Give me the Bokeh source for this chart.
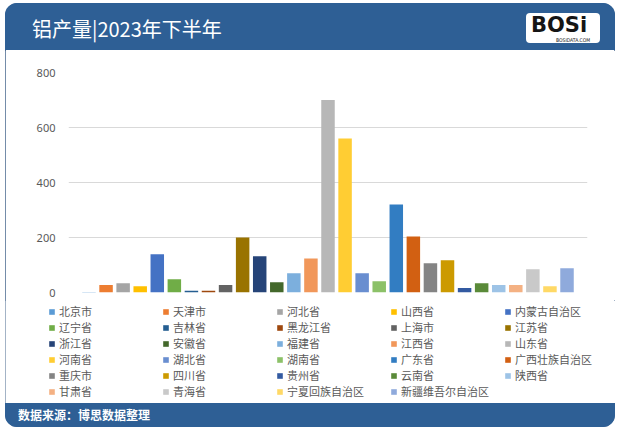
from bokeh.plotting import figure
from bokeh.models import ColumnDataSource, Legend, LegendItem, Div, FixedTicker
from bokeh.layouts import column
from bokeh.embed import file_html
from bokeh.resources import INLINE

title_text = "铝产量|2023年下半年"
source_text = "数据来源：博思数据整理"

provinces = ["北京市", "天津市", "河北省", "山西省", "内蒙古自治区",
             "辽宁省", "吉林省", "黑龙江省", "上海市", "江苏省",
             "浙江省", "安徽省", "福建省", "江西省", "山东省",
             "河南省", "湖北省", "湖南省", "广东省", "广西壮族自治区",
             "重庆市", "四川省", "贵州省", "云南省", "陕西省",
             "甘肃省", "青海省", "宁夏回族自治区", "新疆维吾尔自治区"]
values = [2, 27, 34, 23, 139,
          48, 6, 6, 27, 200,
          132, 37, 70, 124, 700,
          560, 70, 41, 320, 204,
          106, 117, 16, 34, 27,
          27, 85, 23, 88]
colors = ["#5B9BD5", "#ED7D31", "#A5A5A5", "#FFC000", "#4472C4",
          "#70AD47", "#255E91", "#9E480E", "#636363", "#997300",
          "#264478", "#43682B", "#7CAFDD", "#F1975A", "#B7B7B7",
          "#FFCD33", "#698ED0", "#8CC168", "#327DC2", "#D26012",
          "#848484", "#CC9A00", "#335AA1", "#5A8A39", "#9DC3E6",
          "#F4B183", "#C9C9C9", "#FFD966", "#8FAADC"]
y_ticks = [0, 200, 400, 600, 800]

W = 610
HEAD_BLUE = "#2E5F95"
EDGE = "#46668c"
CJK = "Noto Sans CJK SC"

header = Div(
    text=(
        f'<div style="position:relative;width:{W}px;height:47px;background:{HEAD_BLUE};'
        f'border-radius:12px 12px 0 0;font-family:\'{CJK}\';overflow:hidden;">'
        f'<div style="position:absolute;left:27px;top:16px;color:#ffffff;font-size:20px;'
        f'line-height:20px;white-space:nowrap;">{title_text}</div>'
        '<div style="position:absolute;left:521px;top:10px;width:74px;height:30px;background:#ffffff;'
        'border-radius:4px;">'
        '<div style="position:absolute;left:5px;top:0px;font-family:\'DejaVu Sans\';font-weight:bold;'
        'font-size:21px;line-height:24px;color:#151515;letter-spacing:0px;">BOSi</div>'
        '<div style="position:absolute;left:30px;top:25px;font-family:\'DejaVu Sans Condensed\';font-size:5px;'
        'line-height:5px;color:#151515;">BOSIDATA.COM</div>'
        '</div></div>'
    ),
    width=W, height=47, margin=0,
)

footer = Div(
    text=(
        f'<div style="position:relative;width:{W}px;height:24px;background:{HEAD_BLUE};'
        f'border-radius:0 0 12px 12px;font-family:\'{CJK}\';">'
        f'<div style="position:absolute;left:13px;top:5px;color:#ffffff;font-size:12px;'
        f'font-weight:bold;line-height:14px;white-space:nowrap;">{source_text}</div>'
        '</div>'
    ),
    width=W, height=24, margin=0,
)

src = ColumnDataSource(dict(x=list(range(len(provinces))), top=values, color=colors, name=provinces))

# ---- chart
p = figure(width=W, height=250, x_range=(-1.2, len(provinces) + 0.2), y_range=(0, 800),
           output_backend="svg", toolbar_location=None,
           min_border_left=63, min_border_right=28, min_border_top=22, min_border_bottom=8,
           margin=0)
p.frame_align = False
p.outline_line_color = None
p.background_fill_color = "#ffffff"
p.border_fill_color = "#ffffff"

r = p.vbar(x="x", top="top", width=0.79, color="color", line_color=None, source=src)

p.xaxis.visible = False
p.xgrid.visible = False
p.ygrid.grid_line_color = "#D9D9D9"
p.ygrid.grid_line_width = 1
p.yaxis.ticker = FixedTicker(ticks=y_ticks)
p.yaxis.axis_line_color = None
p.yaxis.major_tick_line_color = None
p.yaxis.minor_tick_line_color = None
p.yaxis.major_tick_out = 0
p.yaxis.major_tick_in = 0
p.yaxis.major_label_standoff = 13
p.yaxis.major_label_text_font = "Noto Sans"
p.yaxis.major_label_text_font_size = "11px"
p.yaxis.major_label_text_color = "#595959"

# ---- legend panel (its own figure; its bars lie far outside its visible range)
pl = figure(width=W, height=103, x_range=(-1.2, len(provinces) + 0.2), y_range=(10000, 10001),
            output_backend="svg", toolbar_location=None,
            min_border_left=0, min_border_right=0, min_border_top=0, min_border_bottom=0,
            margin=0)
pl.frame_align = False
pl.axis.visible = False
pl.grid.visible = False
pl.outline_line_color = None
pl.background_fill_color = "#ffffff"
pl.border_fill_color = "#ffffff"
rl = pl.vbar(x="x", top="top", width=0.79, color="color", line_color=None, source=src)

items = [LegendItem(label=name, renderers=[rl], index=i) for i, name in enumerate(provinces)]
legend = Legend(items=items, orientation="horizontal", ncols=5,
                location=(43, 4), padding=0, margin=0, spacing=0,
                glyph_width=7, glyph_height=7, label_standoff=4, label_width=103,
                label_height=12, label_text_line_height=1.0,
                label_text_font=CJK, label_text_font_size="11px", label_text_color="#595959",
                background_fill_alpha=0, border_line_color=None)
pl.add_layout(legend, "center")

layout = column(header, p, pl, footer, spacing=0, margin=(3, 0, 0, 5),
                styles={"background-color": "#ffffff", "border-radius": "12px",
                        "outline": f"1px solid {EDGE}", "outline-offset": "-1px"})

open("out.html", "w").write(file_html(layout, INLINE, title=title_text))
